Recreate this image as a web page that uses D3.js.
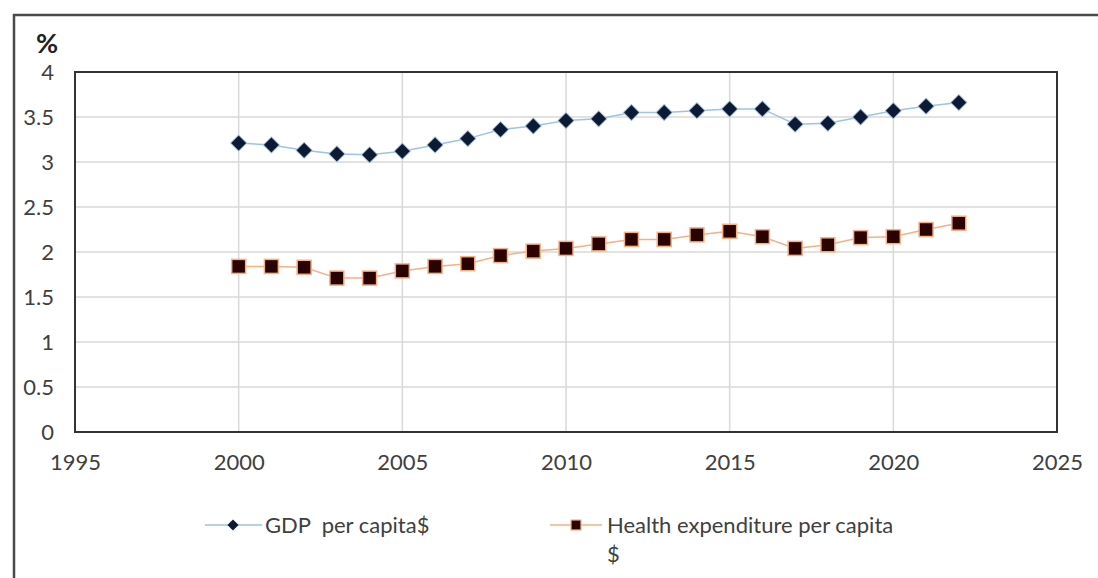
<!DOCTYPE html>
<html>
<head>
<meta charset="utf-8">
<script src="https://cdn.jsdelivr.net/npm/d3@7"></script>
<style>
  html, body { margin: 0; padding: 0; background: #fff; }
  svg { display: block; font-family: Lato, "Open Sans", sans-serif; }
</style>
</head>
<body>
<svg id="chart" width="1098" height="578"></svg>
<script>
// Years and series (per-capita growth, %)
const years = [2000, 2001, 2002, 2003, 2004, 2005, 2006, 2007, 2008, 2009, 2010,
               2011, 2012, 2013, 2014, 2015, 2016, 2017, 2018, 2019, 2020, 2021, 2022];
const gdpPerCapita = [3.21, 3.19, 3.13, 3.09, 3.08, 3.12, 3.19, 3.26, 3.36, 3.40, 3.46,
                      3.48, 3.55, 3.55, 3.57, 3.59, 3.59, 3.42, 3.43, 3.50, 3.57, 3.62, 3.66];
const healthPerCapita = [1.84, 1.84, 1.83, 1.71, 1.71, 1.79, 1.84, 1.87, 1.96, 2.01, 2.04,
                         2.09, 2.14, 2.14, 2.19, 2.23, 2.17, 2.04, 2.08, 2.16, 2.17, 2.25, 2.32];
const xTicks = [1995, 2000, 2005, 2010, 2015, 2020, 2025];
const yTicks = [0, 0.5, 1, 1.5, 2, 2.5, 3, 3.5, 4];
const seriesNames = ["GDP\u00a0 per capita$", "Health expenditure per capita", "$"];

const svg = d3.select("#chart");
const plot = { left: 75, top: 72, right: 1057, bottom: 432 };

const x = d3.scaleLinear().domain([1995, 2025]).range([plot.left, plot.right]);
const y = d3.scaleLinear().domain([0, 4]).range([plot.bottom, plot.top]);

const textColor = "#404040";
const fontSize = "22px";

// outer chart frame (continues past the right and bottom edges)
svg.append("path")
  .attr("d", "M14,600 L14,15 L1110,15")
  .attr("fill", "none").attr("stroke", "#4a4a4a").attr("stroke-width", 2.5);

// gridlines
const grid = svg.append("g").attr("stroke", "#d9d9d9").attr("stroke-width", 1.5);
grid.selectAll("line.h").data(yTicks.filter(d => d > 0 && d < 4)).join("line")
  .attr("x1", plot.left).attr("x2", plot.right)
  .attr("y1", d => y(d)).attr("y2", d => y(d));
grid.selectAll("line.v").data(xTicks.filter(d => d > 1995 && d < 2025)).join("line")
  .attr("class", "v")
  .attr("y1", plot.top).attr("y2", plot.bottom)
  .attr("x1", d => x(d)).attr("x2", d => x(d));

// plot area border
svg.append("rect")
  .attr("x", plot.left).attr("y", plot.top)
  .attr("width", plot.right - plot.left).attr("height", plot.bottom - plot.top)
  .attr("fill", "none").attr("stroke", "#333").attr("stroke-width", 2);

// axes built with d3, restyled
const yAxis = svg.append("g")
  .attr("transform", `translate(${plot.left},0)`)
  .call(d3.axisLeft(y).tickValues(yTicks).tickSize(0).tickPadding(21).tickFormat(d3.format("")));
yAxis.select(".domain").remove();
yAxis.selectAll("text").attr("fill", textColor).style("font-size", fontSize)
  .style("font-family", "Lato, 'Open Sans', sans-serif");

const xAxis = svg.append("g")
  .attr("transform", `translate(0,${plot.bottom})`)
  .call(d3.axisBottom(x).tickValues(xTicks).tickSize(0).tickPadding(22).tickFormat(d3.format("d")));
xAxis.select(".domain").remove();
xAxis.selectAll("text").attr("fill", textColor).style("font-size", fontSize)
  .style("font-family", "Lato, 'Open Sans', sans-serif");

// unit label
svg.append("text").attr("x", 36).attr("y", 53)
  .attr("fill", "#222").style("font-size", "27px").style("font-weight", "bold")
  .text("%");

const line = d3.line().x((d, i) => x(years[i])).y(d => y(d));

// GDP series
svg.append("path").datum(gdpPerCapita)
  .attr("d", line).attr("fill", "none")
  .attr("stroke", "#9dc3e6").attr("stroke-width", 1.5);
const diamond = d3.symbol().type(d3.symbolDiamond2).size(170);
svg.append("g").selectAll("path").data(gdpPerCapita).join("path")
  .attr("d", diamond)
  .attr("transform", (d, i) => `translate(${x(years[i])},${y(d)})`)
  .attr("fill", "#0c1a35").attr("stroke", "#bdd7ee").attr("stroke-width", 1.2)
  .attr("stroke-opacity", 0.7);

// health expenditure series
svg.append("path").datum(healthPerCapita)
  .attr("d", line).attr("fill", "none")
  .attr("stroke", "#f4b183").attr("stroke-width", 1.5);
svg.append("g").selectAll("rect").data(healthPerCapita).join("rect")
  .attr("x", (d, i) => x(years[i]) - 7).attr("y", d => y(d) - 7)
  .attr("width", 14).attr("height", 14)
  .attr("fill", "#2a0200").attr("stroke", "#f4b183").attr("stroke-width", 1.5);

// legend
const legY = 525;
const leg = svg.append("g");
leg.append("line").attr("x1", 205).attr("x2", 262).attr("y1", legY).attr("y2", legY)
  .attr("stroke", "#9dc3e6").attr("stroke-width", 1.5);
leg.append("path").attr("d", d3.symbol().type(d3.symbolDiamond2).size(80))
  .attr("transform", `translate(233,${legY})`).attr("fill", "#0c1a35");
leg.append("text").attr("x", 265).attr("y", legY + 8)
  .attr("fill", textColor).style("font-size", fontSize).text(seriesNames[0]);

leg.append("line").attr("x1", 550).attr("x2", 602).attr("y1", legY).attr("y2", legY)
  .attr("stroke", "#f4b183").attr("stroke-width", 1.5);
leg.append("rect").attr("x", 571).attr("y", legY - 5).attr("width", 10).attr("height", 10)
  .attr("fill", "#2a0200").attr("stroke", "#f4b183").attr("stroke-width", 1.2);
leg.append("text").attr("x", 607).attr("y", legY + 8)
  .attr("fill", textColor).style("font-size", fontSize).text(seriesNames[1]);
leg.append("text").attr("x", 607).attr("y", legY + 37)
  .attr("fill", textColor).style("font-size", fontSize).text(seriesNames[2]);
</script>
</body>
</html>
